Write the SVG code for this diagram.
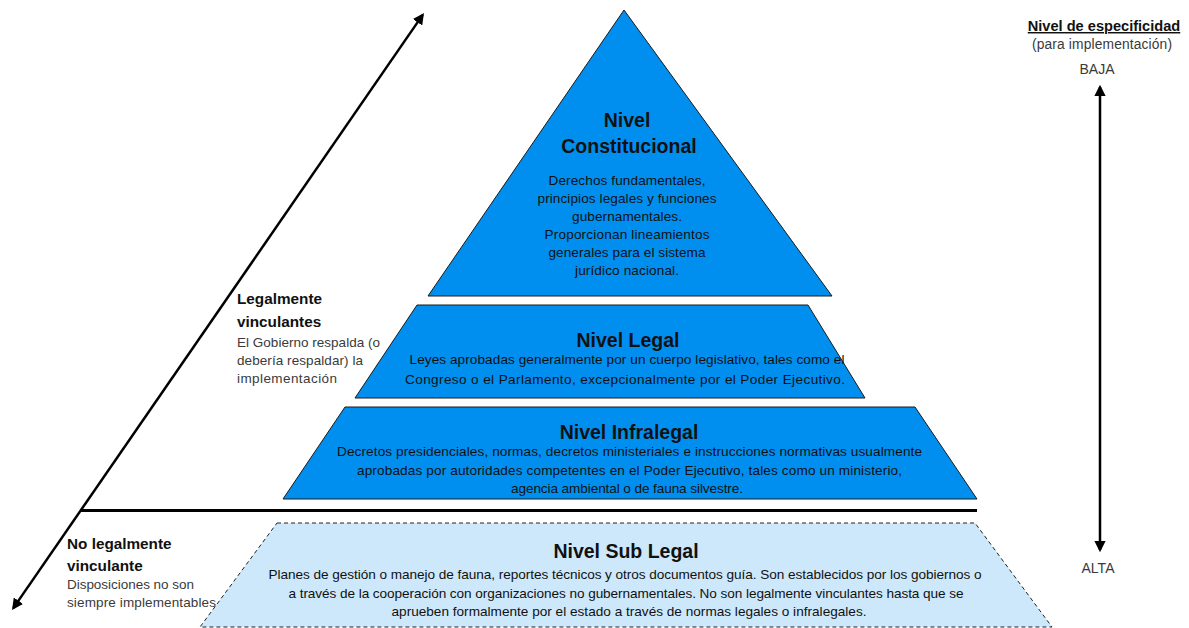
<svg xmlns="http://www.w3.org/2000/svg" width="1189" height="628" viewBox="0 0 1189 628">
<style>
text{font-family:"Liberation Sans",Arial,sans-serif;fill:#111;}
.t{font-size:19.5px;font-weight:bold;text-anchor:middle;}
.b{font-size:13.6px;text-anchor:middle;}
.lb{font-size:15.3px;font-weight:bold;}
.ls{font-size:13.5px;fill:#3a3a3a;}
.lvl{fill:#008FEF;stroke:#1a1a1a;stroke-width:1;}
.sub{fill:#CDE8FB;stroke:#222;stroke-width:1;stroke-dasharray:4 3;}
.arr{stroke:#000;stroke-width:2.5;fill:none;}
</style>
<defs>
<marker id="ah" viewBox="0 0 10 10" refX="8" refY="5" markerWidth="4.5" markerHeight="4.5" orient="auto-start-reverse" markerUnits="strokeWidth">
<path d="M0,0 L10,5 L0,10 z" fill="#000"/>
</marker>
</defs>
<rect width="1189" height="628" fill="#fff"/>
<g id="nivel-sub-legal">
<polygon class="sub" points="277,523 975,523 1052,627 200,627"/>
<text class="t" x="626" y="558">Nivel Sub Legal</text>
<text class="b" x="625" y="579" textLength="713">Planes de gestión o manejo de fauna, reportes técnicos y otros documentos guía. Son establecidos por los gobiernos o</text>
<text class="b" x="626" y="598" textLength="675">a través de la cooperación con organizaciones no gubernamentales. No son legalmente vinculantes hasta que se</text>
<text class="b" x="629" y="616" textLength="475">aprueben formalmente por el estado a través de normas legales o infralegales.</text>
</g>
<g id="connectors">
<line class="arr" x1="13.3" y1="608.1" x2="422.7" y2="14.9" marker-start="url(#ah)" marker-end="url(#ah)"/>
<line class="arr" x1="1100" y1="87" x2="1100" y2="550" marker-start="url(#ah)" marker-end="url(#ah)"/>
<line x1="80" y1="510.5" x2="977" y2="510.5" stroke="#000" stroke-width="3"/>
</g>
<g id="nivel-constitucional">
<polygon class="lvl" points="624,10 428,296 832,296"/>
<text class="t" x="627" y="127">Nivel</text>
<text class="t" x="629" y="153">Constitucional</text>
<text class="b" x="627" y="185" textLength="157">Derechos fundamentales,</text>
<text class="b" x="627" y="203" textLength="179">principios legales y funciones</text>
<text class="b" x="627" y="221" textLength="110">gubernamentales.</text>
<text class="b" x="627" y="239" textLength="165">Proporcionan lineamientos</text>
<text class="b" x="627" y="257" textLength="157">generales para el sistema</text>
<text class="b" x="627" y="275" textLength="104">jurídico nacional.</text>
</g>
<g id="nivel-legal">
<polygon class="lvl" points="417,305 808,305 865,398 355,398"/>
<text class="t" x="628" y="347">Nivel Legal</text>
<text class="b" x="627" y="364" textLength="435">Leyes aprobadas generalmente por un cuerpo legislativo, tales como el</text>
<text class="b" x="625" y="384" textLength="440">Congreso o el Parlamento, excepcionalmente por el Poder Ejecutivo.</text>
</g>
<g id="nivel-infralegal">
<polygon class="lvl" points="345,407 915,407 977,499 283,499"/>
<text class="t" x="629" y="439">Nivel Infralegal</text>
<text class="b" x="629.5" y="456" textLength="585">Decretos presidenciales, normas, decretos ministeriales e instrucciones normativas usualmente</text>
<text class="b" x="629.5" y="475" textLength="545">aprobadas por autoridades competentes en el Poder Ejecutivo, tales como un ministerio,</text>
<text class="b" x="627" y="493" textLength="232">agencia ambiental o de fauna silvestre.</text>
</g>
<g id="legalmente-vinculantes">
<text class="lb" x="237" y="304">Legalmente</text>
<text class="lb" x="237" y="327">vinculantes</text>
<text class="ls" x="237" y="347" textLength="143">El Gobierno respalda (o</text>
<text class="ls" x="237" y="365" textLength="126">debería respaldar) la</text>
<text class="ls" x="237" y="383" textLength="100">implementación</text>
</g>
<g id="no-legalmente-vinculante">
<text class="lb" x="67" y="549">No legalmente</text>
<text class="lb" x="67" y="571">vinculante</text>
<text class="ls" x="67" y="589" textLength="127">Disposiciones no son</text>
<text class="ls" x="67" y="607" textLength="149">siempre implementables</text>
</g>
<g id="especificidad">
<text x="1104" y="31" style="font-size:14.6px;font-weight:bold;text-anchor:middle;text-decoration:underline">Nivel de especificidad</text>
<text x="1102" y="49" style="font-size:13.8px;text-anchor:middle;fill:#3a3a3a" textLength="140">(para implementación)</text>
<text x="1097" y="74" style="font-size:14px;text-anchor:middle;fill:#3a3a3a">BAJA</text>
<text x="1098" y="573" style="font-size:14px;text-anchor:middle;fill:#3a3a3a">ALTA</text>
</g>
</svg>
